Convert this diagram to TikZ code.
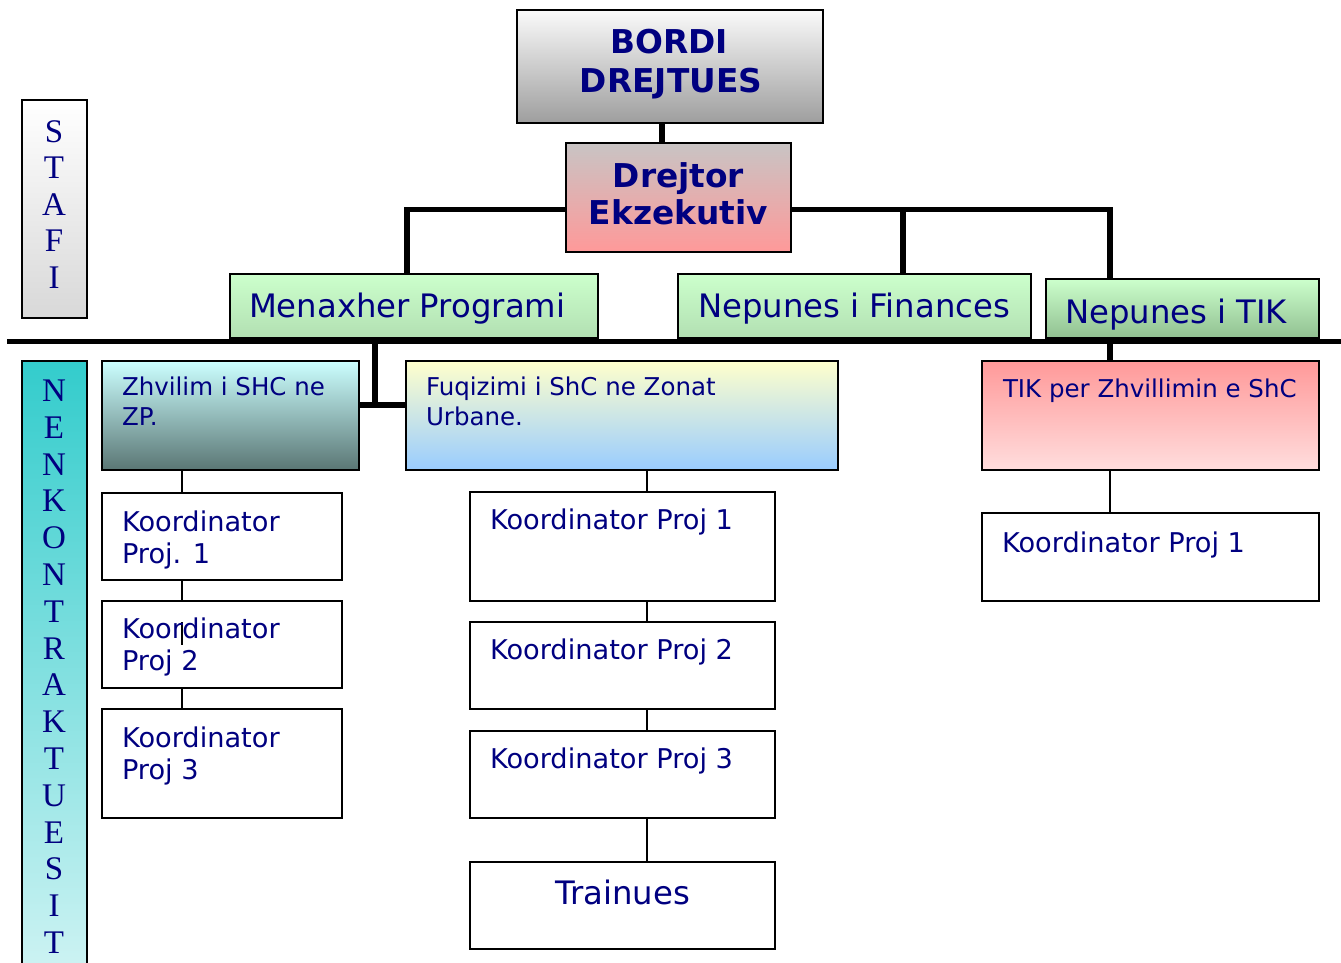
\documentclass[tikz,border=0pt]{standalone}
\usepackage{fontspec}
\setmainfont{DejaVu Sans}
\newfontfamily\serifL{Liberation Serif}
\definecolor{navyc}{RGB}{0,0,128}
\newcommand\mkbox[6]{\node[rbox,#2,minimum width={#5pt-#3pt},minimum height={#6pt-#4pt}] (#1) at ({(#3+#5)/2},{(#4+#6)/2}) {};}
\begin{document}
\begin{tikzpicture}[x=1pt,y=-1pt,
  rbox/.style={draw=black, line width=1.6pt, rectangle, inner sep=0pt, outer sep=0pt},
  lbl/.style={inner sep=0pt, outer sep=0pt, text=navyc, anchor=base west},
  clbl/.style={inner sep=0pt, outer sep=0pt, text=navyc, anchor=base},
  vlet/.style={inner sep=0pt, outer sep=0pt, text=navyc, anchor=base, font=\serifL\fontsize{33}{36}\selectfont},
  bus/.style={draw=black, line width=5.5pt},
  thinc/.style={draw=black, line width=1.6pt},
  fbig/.style={font=\fontsize{32.3}{36}\selectfont},
  fbold/.style={font=\bfseries\fontsize{32.8}{36}\selectfont},
  fmid/.style={font=\fontsize{27.2}{30}\selectfont},
  fsmall/.style={font=\fontsize{24.5}{28}\selectfont},
  greenbox/.style={top color=green!20!white, bottom color={rgb,255:red,178;green,224;blue,178}}
]
\useasboundingbox (0,0) rectangle (1341,962);

% column / row helper coordinates
\coordinate (colA) at (662,0);
\coordinate (colB) at (407,0);
\coordinate (colC) at (903,0);
\coordinate (colD) at (1110,0);
\coordinate (colE) at (375,0);
\coordinate (colL) at (182,0);
\coordinate (colM) at (647,0);
\coordinate (rowDre) at (0,209.5);
\coordinate (rowHub) at (0,405);
\coordinate (busL) at (7,341.5);
\coordinate (busR) at (1341,341.5);

% boxes
\mkbox{bordi}{top color={rgb,255:red,250;green,250;blue,250}, bottom color={rgb,255:red,158;green,158;blue,158}}{517}{10}{823}{123}
\mkbox{dre}{top color={rgb,255:red,200;green,196;blue,196}, bottom color={rgb,255:red,255;green,153;blue,153}}{566}{143}{791}{252}
\mkbox{stafi}{top color=white, bottom color={rgb,255:red,216;green,216;blue,216}}{22}{100}{87}{318}
\mkbox{nenk}{top color={rgb,255:red,51;green,204;blue,204}, bottom color={rgb,255:red,210;green,244;blue,244}}{22}{361}{87}{990}
\mkbox{men}{greenbox}{230}{274}{598}{338}
\mkbox{fin}{greenbox}{678}{274}{1031}{338}
\mkbox{tik}{top color=green!20!white, bottom color={rgb,255:red,145;green,192;blue,145}}{1046}{279}{1319}{338}
\mkbox{zhv}{top color={rgb,255:red,204;green,255;blue,255}, bottom color={rgb,255:red,90;green,118;blue,116}}{102}{361}{359}{470}
\mkbox{fuq}{top color={rgb,255:red,255;green,255;blue,204}, bottom color={rgb,255:red,153;green,204;blue,255}}{406}{361}{838}{470}
\mkbox{tikp}{top color={rgb,255:red,255;green,153;blue,153}, bottom color={rgb,255:red,255;green,221;blue,221}}{982}{361}{1319}{470}
\mkbox{lk1}{fill=white}{102}{493}{342}{580}
\mkbox{lk2}{fill=white}{102}{601}{342}{688}
\mkbox{lk3}{fill=white}{102}{709}{342}{818}
\mkbox{mk1}{fill=white}{470}{492}{775}{601}
\mkbox{mk2}{fill=white}{470}{622}{775}{709}
\mkbox{mk3}{fill=white}{470}{731}{775}{818}
\mkbox{tr}{fill=white}{470}{862}{775}{949}
\mkbox{tk1}{fill=white}{982}{513}{1319}{601}

% connectors
\draw[bus] (bordi.south -| colA) -- (dre.north -| colA);
\draw[bus] (dre.west |- rowDre) -| (men.north -| colB);
\draw[bus] (dre.east |- rowDre) -| (tik.north -| colD);
\coordinate (jC) at (903,209.5);
\draw[bus] (jC) -- (fin.north -| colC);
\draw[bus] (busL) -- (busR);
\draw[bus] (busL -| colE) |- (fuq.west |- rowHub);
\draw[bus] (zhv.east |- rowHub) -- (fuq.west |- rowHub);
\draw[bus] (busR -| colD) -- (tikp.north -| colD);
\draw[thinc] (zhv.south -| colL) -- (lk1.north -| colL);
\draw[thinc] (lk1.south -| colL) -- (lk2.north -| colL);
\draw[thinc] (lk2.south -| colL) -- (lk3.north -| colL);
\draw[thinc] (fuq.south -| colM) -- (mk1.north -| colM);
\draw[thinc] (mk1.south -| colM) -- (mk2.north -| colM);
\draw[thinc] (mk2.south -| colM) -- (mk3.north -| colM);
\draw[thinc] (mk3.south -| colM) -- (tr.north -| colM);
\draw[thinc] (tikp.south -| colD) -- (tk1.north -| colD);
\coordinate (cur) at (182,622);
\draw[thinc] (cur) -- ++(0,23);

% labels
\node[clbl,fbold] (tb1) at (669,53) {BORDI};
\node[clbl,fbold] (tb2) at (671,92) {DREJTUES};
\node[clbl,fbold] (td1) at (678.5,187) {Drejtor};
\node[clbl,fbold] (td2) at (678.5,224) {Ekzekutiv};
\node[lbl,fbig] (tmen) at (249,317) {Menaxher Programi};
\node[lbl,fbig] (tfin) at (698,317) {Nepunes i Finances};
\node[lbl,fbig] (ttik) at (1065,323) {Nepunes i TIK};
\node[lbl,fsmall] (tz1) at (122,395) {Zhvilim i SHC ne};
\node[lbl,fsmall] (tz2) at (122,425) {ZP.};
\node[lbl,fsmall] (tf1) at (426,395) {Fuqizimi i ShC ne Zonat};
\node[lbl,fsmall] (tf2) at (426,425) {Urbane.};
\node[lbl,fsmall] (ttp) at (1003,397) {TIK per Zhvillimin e ShC};
\node[lbl,fmid] (tl1a) at (122,531) {Koordinator};
\node[lbl,fmid] (tl1b) at (122,563) {Proj. 1};
\node[lbl,fmid] (tl2a) at (122,638) {Koordinator};
\node[lbl,fmid] (tl2b) at (122,670) {Proj 2};
\node[lbl,fmid] (tl3a) at (122,747) {Koordinator};
\node[lbl,fmid] (tl3b) at (122,779) {Proj 3};
\node[lbl,fmid] (tm1) at (490,529) {Koordinator Proj 1};
\node[lbl,fmid] (tm2) at (490,659) {Koordinator Proj 2};
\node[lbl,fmid] (tm3) at (490,768) {Koordinator Proj 3};
\node[clbl,fbig] (ttr) at (622.5,904) {Trainues};
\node[lbl,fmid] (tk) at (1002,552) {Koordinator Proj 1};

\foreach \L [count=\i from 0] in {S,T,A,F,I}
  \node[vlet] (st\i) at (54,{142+36.5*\i}) {\L};
\foreach \L [count=\i from 0] in {N,E,N,K,O,N,T,R,A,K,T,U,E,S,I,T}
  \node[vlet] (nk\i) at (54,{401.5+36.8*\i}) {\L};
\end{tikzpicture}
\end{document}
